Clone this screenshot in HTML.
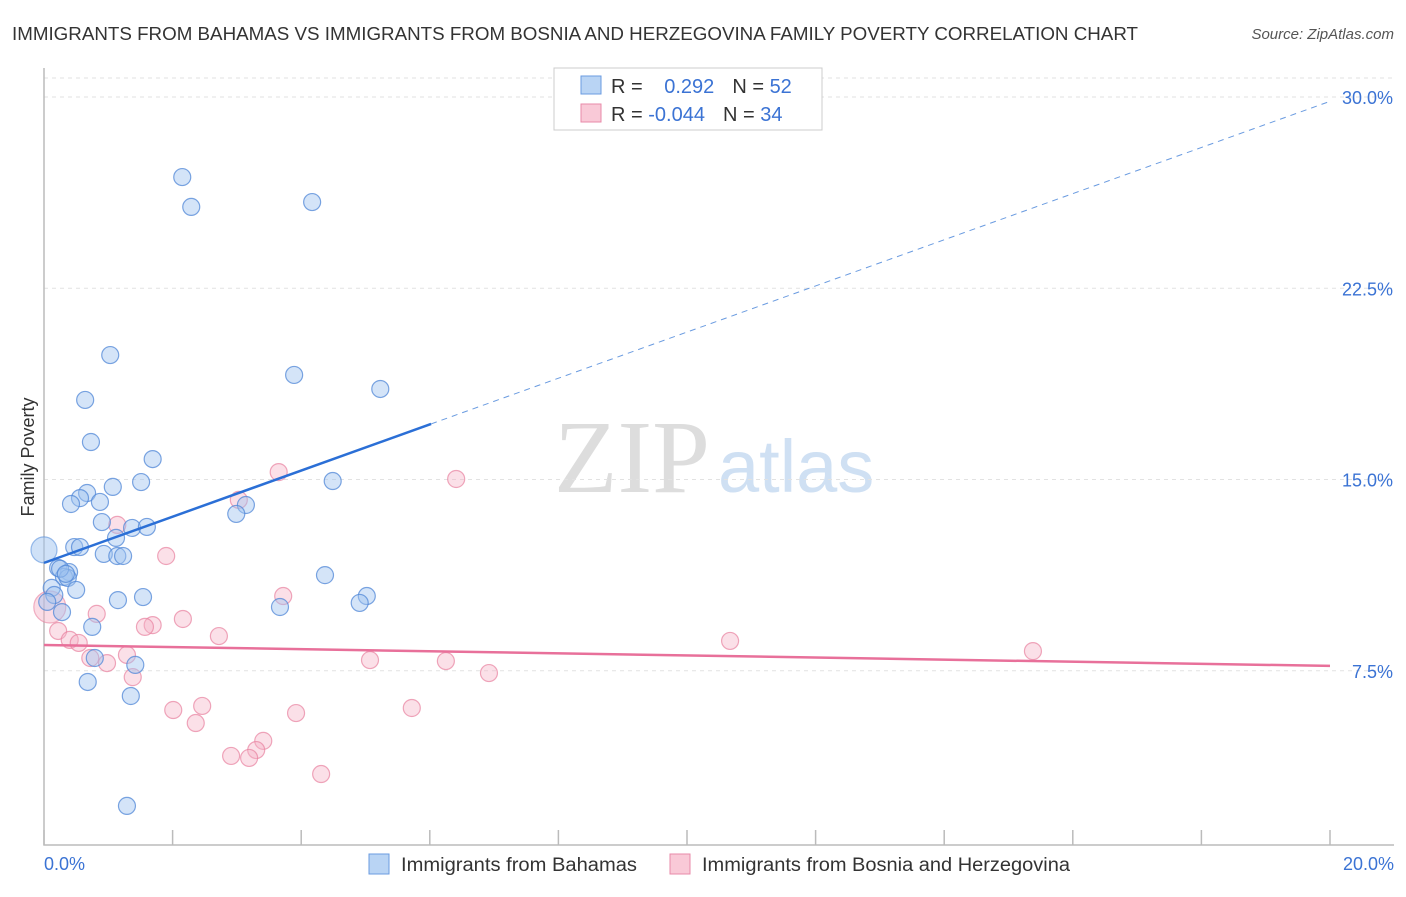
<!DOCTYPE html>
<html><head><meta charset="utf-8"><style>
body{margin:0;background:#fff;font-family:"Liberation Sans",sans-serif}
</style></head><body>
<svg width="1406" height="892" xmlns="http://www.w3.org/2000/svg" font-family="Liberation Sans, sans-serif">
<text x="12" y="40" font-size="18" fill="#333" textLength="1126" lengthAdjust="spacingAndGlyphs">IMMIGRANTS FROM BAHAMAS VS IMMIGRANTS FROM BOSNIA AND HERZEGOVINA FAMILY POVERTY CORRELATION CHART</text>
<text x="1394" y="39" font-size="15" fill="#555" text-anchor="end" font-style="italic">Source: ZipAtlas.com</text>
<text x="554" y="492" font-size="104" fill="#ddd" font-family="Liberation Serif, serif">ZIP</text>
<text x="718" y="492" font-size="74" fill="#cfe0f3">atlas</text>
<g id="grid"></g><g id="axes"></g><g id="pts"></g><g id="lines"></g>
<text transform="translate(34,457) rotate(-90)" font-size="18" fill="#333" text-anchor="middle">Family Poverty</text>
<g>
<rect x="554" y="68" width="268" height="62" fill="#fff" stroke="#ccc"/>
<rect x="581" y="76" width="20" height="18" fill="#b9d4f4" stroke="#6a9be0"/>
<rect x="581" y="104" width="20" height="18" fill="#f9c9d7" stroke="#e88aa8"/>
<text x="611" y="93" font-size="20" fill="#333">R = <tspan fill="#3b73d4" dx="16">0.292</tspan><tspan dx="18" fill="#333">N = </tspan><tspan fill="#3b73d4">52</tspan></text>
<text x="611" y="121" font-size="20" fill="#333">R = <tspan fill="#3b73d4">-0.044</tspan><tspan dx="18" fill="#333">N = </tspan><tspan fill="#3b73d4">34</tspan></text>
</g>
<g>
<rect x="369" y="854" width="20" height="20" fill="#b9d4f4" stroke="#6a9be0"/>
<text x="401" y="871" font-size="19" fill="#333" textLength="236" lengthAdjust="spacingAndGlyphs">Immigrants from Bahamas</text>
<rect x="670" y="854" width="20" height="20" fill="#f9c9d7" stroke="#e88aa8"/>
<text x="702" y="871" font-size="19" fill="#333" textLength="368" lengthAdjust="spacingAndGlyphs">Immigrants from Bosnia and Herzegovina</text>
</g>
</svg>
<script>
const yTicks=[7.5,15,22.5,30];
const yTickLabels=["7.5%","15.0%","22.5%","30.0%"];
const xTicks=[0,2,4,6,8,10,12,14,16,18,20];
const blueX=[2.15,2.29,4.17,1.03,3.89,5.23,0.64,0.73,1.69,1.51,4.49,1.07,0.67,0.56,0.42,0.87,3.14,2.99,0.90,1.37,1.60,1.12,0.47,0.56,0.93,1.14,1.23,0.22,0.39,0.31,0.37,0.12,0.50,0.16,1.15,1.54,4.37,5.02,4.91,3.67,0.28,0.75,0.79,1.42,0.68,1.35,1.29,0.05,0.25,0.34];
const blueY=[26.86,25.69,25.88,19.88,19.10,18.55,18.12,16.47,15.80,14.90,14.94,14.71,14.47,14.27,14.04,14.12,14.00,13.65,13.33,13.10,13.14,12.71,12.35,12.35,12.08,12.00,12.00,11.53,11.37,11.18,11.14,10.75,10.67,10.47,10.27,10.39,11.25,10.43,10.16,10.00,9.80,9.22,8.00,7.73,7.06,6.51,2.20,10.2,11.5,11.3];
const bigBlue=[0,12.24];
const pinkX=[3.65,6.41,3.03,1.14,1.90,3.72,0.82,1.69,1.57,2.16,2.72,0.22,0.40,0.54,10.67,15.38,0.72,0.98,1.29,5.07,6.25,6.92,1.38,2.01,2.46,2.36,3.92,5.72,3.41,3.30,2.91,3.19,4.31];
const pinkY=[15.29,15.02,14.20,13.22,12.00,10.43,9.73,9.29,9.22,9.53,8.86,9.06,8.71,8.59,8.67,8.27,8.00,7.80,8.12,7.92,7.88,7.41,7.25,5.96,6.12,5.45,5.84,6.04,4.75,4.39,4.16,4.08,3.45];
const bigPink=[0.09,10.0];
const blueTrend=[[0,11.73],[6.02,17.18],[20,29.83]];
const pinkTrend=[[0,8.51],[20,7.69]];
const NS="http://www.w3.org/2000/svg";
const sx=v=>44+v*64.3, sy=v=>862-v*25.5;
function mk(tag,attrs,parent){const e=document.createElementNS(NS,tag);for(const k in attrs)e.setAttribute(k,attrs[k]);document.getElementById(parent).appendChild(e);return e;}
const g1=mk('line',{x1:44,x2:1394,y1:78,y2:78,stroke:'#e2e2e2','stroke-dasharray':'4,4'},'grid');


yTicks.forEach((t,i)=>{
 const l=mk('line',{x1:44,x2:1394,y1:sy(t),y2:sy(t),stroke:'#e2e2e2','stroke-dasharray':'4,4'},'grid');
 
 
 const tx=mk('text',{x:1393,y:sy(t)+7,'font-size':18,fill:'#3b73d4','text-anchor':'end'},'grid');
 tx.textContent=yTickLabels[i];
 
 
});
const ax=mk('path',{d:'M44,68V845H1394',stroke:'#bbb',fill:'none','stroke-width':1.5},'axes');


xTicks.forEach(t=>{
 const l=mk('line',{x1:sx(t),x2:sx(t),y1:830,y2:845,stroke:'#bbb','stroke-width':1.5},'axes');
 
 
});
[[0,'0.0%','start',44],[20,'20.0%','end',1394]].forEach(a=>{
 const tx=mk('text',{x:a[3],y:870,'font-size':18,fill:'#3b73d4','text-anchor':a[2]},'axes');
 tx.textContent=a[1];
 
 
});
function dot(x,y,r,f,s){const c=mk('circle',{cx:sx(x),cy:sy(y),r:r,fill:f,stroke:s,'stroke-width':1.2},'pts');
 
 }
dot(bigPink[0],bigPink[1],16,'rgba(246,178,198,0.45)','rgba(232,130,160,0.6)');
pinkX.forEach((x,i)=>dot(x,pinkY[i],8.5,'rgba(246,178,198,0.4)','rgba(232,130,160,0.7)'));
dot(bigBlue[0],bigBlue[1],13,'rgba(160,196,240,0.5)','rgba(90,145,220,0.6)');
blueX.forEach((x,i)=>dot(x,blueY[i],8.5,'rgba(160,196,240,0.45)','rgba(80,135,215,0.75)'));
const b1=mk('line',{x1:sx(blueTrend[0][0]),y1:sy(blueTrend[0][1]),x2:sx(blueTrend[1][0]),y2:sy(blueTrend[1][1]),stroke:'#2b6fd6','stroke-width':2.5},'lines');


const b2=mk('line',{x1:sx(blueTrend[1][0]),y1:sy(blueTrend[1][1]),x2:sx(blueTrend[2][0]),y2:sy(blueTrend[2][1]),stroke:'#6a9be0','stroke-width':1,'stroke-dasharray':'6,5'},'lines');


const p1=mk('line',{x1:sx(pinkTrend[0][0]),y1:sy(pinkTrend[0][1]),x2:sx(pinkTrend[1][0]),y2:sy(pinkTrend[1][1]),stroke:'#e8709a','stroke-width':2.5},'lines');


</script>
</body></html>
